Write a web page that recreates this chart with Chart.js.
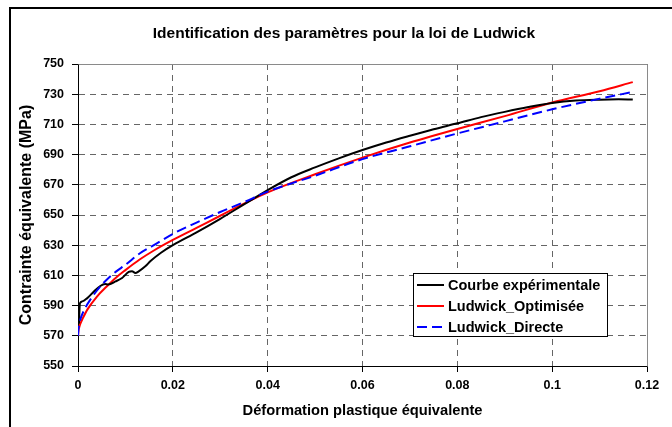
<!DOCTYPE html>
<html>
<head>
<meta charset="utf-8">
<script src="https://cdn.jsdelivr.net/npm/chart.js@4/dist/chart.umd.min.js"></script>
<style>
html,body{margin:0;padding:0;background:#fff;overflow:hidden;}
#wrap{position:relative;width:672px;height:427px;overflow:hidden;background:#fff;}
#c{position:absolute;left:0;top:0;}
#frame{position:absolute;left:9px;top:7px;width:720px;height:520px;border:2px solid #000;pointer-events:none;}
</style>
</head>
<body>
<div id="wrap"><canvas id="c" width="672" height="427"></canvas><div id="frame"></div></div>
<script>
// ---- Data ----
const chartTitle = "Identification des paramètres pour la loi de Ludwick";
const xAxisTitle = "Déformation plastique équivalente";
const yAxisTitle = "Contrainte équivalente (MPa)";
const seriesNames = ["Courbe expérimentale", "Ludwick_Optimisée", "Ludwick_Directe"];

const xTicks = [0, 0.02, 0.04, 0.06, 0.08, 0.1, 0.12];
const xTickLabels = ["0", "0.02", "0.04", "0.06", "0.08", "0.1", "0.12"];
const yTicks = [550, 570, 590, 610, 630, 650, 670, 690, 710, 730, 750];

// Experimental curve
const strainExp = [0.0002, 0.0004, 0.0009, 0.0019, 0.0033, 0.0047, 0.0057, 0.0064, 0.0079, 0.0093,
  0.0107, 0.0114, 0.0121, 0.0128, 0.0142, 0.0153, 0.0175, 0.02, 0.025, 0.03,
  0.035, 0.04, 0.045, 0.05, 0.055, 0.06, 0.065, 0.07, 0.075, 0.08,
  0.085, 0.09, 0.095, 0.1, 0.105, 0.11, 0.114, 0.117];
const stressExp = [578, 591.5, 592.8, 594.8, 599.2, 603, 604.3, 604, 606, 608.3,
  612.3, 612.7, 611.6, 612.7, 616, 619.5, 625, 630, 638.5, 647.5,
  657, 666.5, 675, 681.5, 687.5, 693, 698, 702.5, 706.8, 710.7,
  714.8, 718.3, 721.5, 724.2, 725.8, 726.4, 726.6, 726.5];

// Model curves (same strain points)
const strainModel = [0, 0.0001, 0.00025, 0.0005, 0.001, 0.002, 0.004, 0.006, 0.008, 0.01,
  0.013, 0.016, 0.02, 0.025, 0.03, 0.035, 0.04, 0.05, 0.06, 0.07,
  0.08, 0.09, 0.1, 0.11, 0.117];
const stressOptimisee = [570, 573.5, 575.5, 578, 581.5, 587.5, 596, 602.5, 608.5, 613.5,
  620.5, 626.5, 633.5, 641.5, 649.5, 657.5, 665, 677, 688, 698,
  707, 715.5, 724.5, 732, 738];
const stressDirecte = [570, 574.5, 577.5, 581, 585, 591, 600, 607, 612.5, 617,
  624.5, 630, 637.5, 645, 652, 658.5, 665.5, 676, 687, 695.5,
  704, 712, 720, 727, 731.5];

const FONT = "'Liberation Sans', Arial, Helvetica, sans-serif";
const toPts = (xs, ys) => xs.map((x, i) => ({x: x, y: ys[i]}));

const plotFrame = {
  id: 'plotFrame',
  beforeDatasetsDraw(chart) {
    const {ctx, chartArea: a} = chart;
    ctx.save();
    ctx.strokeStyle = '#8a8a8a';
    ctx.lineWidth = 1;
    ctx.beginPath();
    ctx.moveTo(Math.round(a.left) + 0.5, Math.round(a.top) + 0.5);
    ctx.lineTo(Math.round(a.right) + 0.5, Math.round(a.top) + 0.5);
    ctx.lineTo(Math.round(a.right) + 0.5, Math.round(a.bottom) + 0.5);
    ctx.stroke();
    ctx.restore();
  }
};

const boxLegend = {
  id: 'boxLegend',
  afterDraw(chart) {
    const ctx = chart.ctx;
    const bx = 413.5, by = 273.5, bw = 194, bh = 63;
    ctx.save();
    ctx.fillStyle = '#fff';
    ctx.fillRect(bx, by, bw, bh);
    ctx.strokeStyle = '#000';
    ctx.lineWidth = 1;
    ctx.setLineDash([]);
    ctx.strokeRect(bx, by, bw, bh);
    const rowY = [285, 306, 327];
    chart.data.datasets.forEach((ds, i) => {
      const y = rowY[i];
      ctx.strokeStyle = ds.borderColor;
      ctx.lineWidth = 2;
      ctx.setLineDash(ds.borderDash || []);
      ctx.beginPath();
      ctx.moveTo(417, y);
      ctx.lineTo(444, y);
      ctx.stroke();
      ctx.setLineDash([]);
      ctx.fillStyle = '#000';
      ctx.font = 'bold 14.5px ' + FONT;
      ctx.textBaseline = 'middle';
      ctx.textAlign = 'left';
      ctx.fillText(ds.label, 448, y + 0.5);
    });
    ctx.restore();
  }
};

new Chart(document.getElementById('c'), {
  type: 'line',
  data: {
    datasets: [
      {label: seriesNames[0], data: toPts(strainExp, stressExp), borderColor: '#000000', borderWidth: 2, order: 1},
      {label: seriesNames[1], data: toPts(strainModel, stressOptimisee), borderColor: '#ff0000', borderWidth: 2, order: 2},
      {label: seriesNames[2], data: toPts(strainModel, stressDirecte), borderColor: '#0000ff', borderWidth: 2, borderDash: [10, 5], order: 0}
    ]
  },
  options: {
    responsive: false,
    animation: false,
    devicePixelRatio: 1,
    parsing: false,
    elements: {point: {radius: 0}, line: {tension: 0, cubicInterpolationMode: 'monotone', fill: false}},
    layout: {padding: {left: 41, right: 25, top: 0, bottom: 0}},
    plugins: {
      legend: {display: false},
      tooltip: {enabled: false},
      title: {
        display: true, text: chartTitle, color: '#000',
        font: {family: FONT, size: 15.5, weight: 'bold'},
        padding: {top: 24, bottom: 21.4}
      }
    },
    scales: {
      x: {
        type: 'linear', min: 0, max: 0.12,
        afterBuildTicks: s => { s.ticks = xTicks.map(v => ({value: v})); },
        afterFit: s => { s.height = 61; },
        ticks: {
          color: '#000', font: {family: FONT, size: 12.5, weight: 'bold'}, padding: 6,
          maxRotation: 0, autoSkip: false,
          callback: (v) => { const i = xTicks.findIndex(t => Math.abs(t - v) < 1e-9); return i >= 0 ? xTickLabels[i] : ''; }
        },
        grid: {color: '#666', lineWidth: 1, tickLength: 6, tickColor: '#000', tickWidth: 1, tickBorderDash: []},
        border: {display: true, color: '#000', width: 1, dash: [6, 5]},
        title: {display: true, text: xAxisTitle, color: '#000', font: {family: FONT, size: 14.7, weight: 'bold'}, padding: {top: 0, bottom: 7.2}}
      },
      y: {
        type: 'linear', min: 550, max: 750,
        afterBuildTicks: s => { s.ticks = yTicks.map(v => ({value: v})); },
        afterFit: s => { s.width = 37; },
        ticks: {color: '#000', font: {family: FONT, size: 12.5, weight: 'bold'}, padding: 8},
        grid: {color: '#666', lineWidth: 1, tickLength: 6, tickColor: '#000', tickWidth: 1, tickBorderDash: []},
        border: {display: true, color: '#000', width: 1, dash: [6, 5]},
        title: {display: true, text: yAxisTitle, color: '#000', font: {family: FONT, size: 16, weight: 'bold'}, padding: {top: -24.1, bottom: 0}}
      }
    }
  },
  plugins: [plotFrame, boxLegend]
});
</script>
</body>
</html>
